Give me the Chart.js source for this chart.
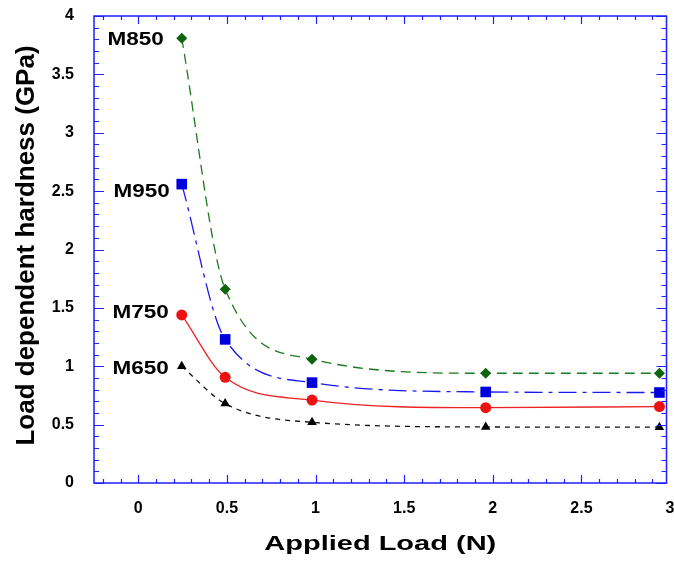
<!DOCTYPE html>
<html>
<head>
<meta charset="utf-8">
<title>Load dependent hardness</title>
<script src="https://cdn.jsdelivr.net/npm/chart.js@4.4.0/dist/chart.umd.min.js"></script>
<style>
    html, body { margin: 0; padding: 0; background: #ffffff; }
    #wrap { width: 674px; height: 563px; }
</style>
</head>
<body>
<div id="wrap"><canvas id="myChart" width="674" height="563"></canvas></div>
<script>
// applied loads (N) - same for every sample
const loads = [0.245, 0.49, 0.98, 1.96, 2.94];

// hardness values (GPa)
const m850 = [3.81, 1.66, 1.06, 0.94, 0.94];
const m950 = [2.56, 1.23, 0.86, 0.78, 0.775];
const m750 = [1.44, 0.905, 0.71, 0.645, 0.655];
const m650 = [1.00, 0.68, 0.52, 0.48, 0.478];

const seriesNames = ['M850', 'M950', 'M750', 'M650'];

// tick labels on the axes
const xTicks = [0, 0.5, 1, 1.5, 2, 2.5, 3];
const yTicks = [0, 0.5, 1, 1.5, 2, 2.5, 3, 3.5, 4];

const xTitle = 'Applied Load (N)';
const yTitle = 'Load dependent hardness (GPa)';

const frameBlue = '#1f1fff';
const tickFont = "bold 16px 'Liberation Sans', Arial";

function toPoints(ys) {
    return loads.map((x, i) => ({ x: x, y: ys[i] }));
}

// blue box with inward ticks, tick labels, axis titles and the sample names
const framePlugin = {
    id: 'frame',
    afterDraw(chart) {
        const ctx = chart.ctx;
        const { left, right, top, bottom } = chart.chartArea;
        const xs = chart.scales.x;
        const ys = chart.scales.y;
        ctx.save();
        ctx.strokeStyle = frameBlue;
        ctx.lineWidth = 1.5;
        ctx.strokeRect(left, top, right - left, bottom - top);

        ctx.lineWidth = 1.2;
        ctx.beginPath();
        for (let i = -3; i <= 30; i++) {
            const v = i / 10;
            if (v < xs.min || v > xs.max) continue;
            const px = Math.round(xs.getPixelForValue(v)) + 0.5;
            const len = (i % 5 === 0) ? 8 : 4;
            ctx.moveTo(px, bottom); ctx.lineTo(px, bottom - len);
            ctx.moveTo(px, top); ctx.lineTo(px, top + len);
        }
        for (let i = 0; i <= 40; i++) {
            const v = i / 10;
            const py = Math.round(ys.getPixelForValue(v)) + 0.5;
            const len = (i % 5 === 0) ? 10 : 5;
            ctx.moveTo(left, py); ctx.lineTo(left + len, py);
            ctx.moveTo(right, py); ctx.lineTo(right - len, py);
        }
        ctx.stroke();

        ctx.fillStyle = '#000000';

        // tick labels
        ctx.font = tickFont;
        ctx.textAlign = 'center';
        ctx.textBaseline = 'middle';
        xTicks.forEach(v => ctx.fillText(String(v), xs.getPixelForValue(v), bottom + 26));
        ctx.textAlign = 'right';
        yTicks.forEach(v => ctx.fillText(String(v), left - 20, ys.getPixelForValue(v)));

        // x title (the original lettering is wide, so stretch it)
        ctx.save();
        ctx.translate((left + right) / 2, 550);
        ctx.scale(1.45, 1);
        ctx.font = "bold 20px 'Liberation Sans', Arial";
        ctx.textAlign = 'center';
        ctx.textBaseline = 'alphabetic';
        ctx.fillText(xTitle, 0, 0);
        ctx.restore();

        // y title
        ctx.save();
        ctx.translate(34, (top + bottom) / 2 - 4);
        ctx.rotate(-Math.PI / 2);
        ctx.font = "bold 26px 'Liberation Sans', Arial";
        ctx.textAlign = 'center';
        ctx.textBaseline = 'alphabetic';
        ctx.fillText(yTitle, 0, 0);
        ctx.restore();

        // series names, placed left of the first point
        const nudge = [[-18, 2], [-12, 8], [-13, -2], [-13, 3]];
        ctx.font = "bold 18px 'Liberation Sans', Arial";
        ctx.textAlign = 'right';
        ctx.textBaseline = 'middle';
        chart.data.datasets.forEach((ds, i) => {
            const p = ds.data[0];
            const px = xs.getPixelForValue(p.x) + nudge[i][0];
            const py = ys.getPixelForValue(p.y) + nudge[i][1];
            ctx.save();
            ctx.translate(px, py);
            ctx.scale(1.25, 1);
            ctx.fillText(seriesNames[i], 0, 0);
            ctx.restore();
        });
        ctx.restore();
    }
};

function createChart() {
    const ctx = document.getElementById('myChart');
    new Chart(ctx, {
        type: 'line',
        data: {
            datasets: [
                {
                    label: 'M850',
                    data: toPoints(m850),
                    borderColor: '#1b7a1b',
                    backgroundColor: '#0d640d',
                    borderWidth: 1.3,
                    borderDash: [10, 6],
                    pointStyle: 'rectRot',
                    pointRadius: 5.5,
                    pointBorderWidth: 0,
                    cubicInterpolationMode: 'monotone'
                },
                {
                    label: 'M950',
                    data: toPoints(m950),
                    borderColor: '#1a1aee',
                    backgroundColor: '#0000dd',
                    borderWidth: 1.3,
                    borderDash: [18, 6, 4, 6],
                    pointStyle: 'rect',
                    pointRadius: 7.5,
                    pointBorderWidth: 0,
                    cubicInterpolationMode: 'monotone'
                },
                {
                    label: 'M750',
                    data: toPoints(m750),
                    borderColor: '#ee2222',
                    backgroundColor: '#ee1111',
                    borderWidth: 1.3,
                    pointStyle: 'circle',
                    pointRadius: 5.5,
                    pointBorderWidth: 0,
                    cubicInterpolationMode: 'monotone'
                },
                {
                    label: 'M650',
                    data: toPoints(m650),
                    borderColor: '#111111',
                    backgroundColor: '#000000',
                    borderWidth: 1.3,
                    borderDash: [5, 5],
                    pointStyle: 'triangle',
                    pointRadius: 5.5,
                    pointBorderWidth: 0,
                    cubicInterpolationMode: 'monotone'
                }
            ]
        },
        options: {
            responsive: false,
            animation: false,
            clip: false,
            layout: { padding: { top: 16, right: 6, left: 0, bottom: 0 } },
            scales: {
                x: {
                    type: 'linear',
                    min: -0.25,
                    max: 2.98,
                    afterFit: scale => { scale.height = 80; },
                    grid: { display: false, drawTicks: false },
                    border: { display: false },
                    ticks: { display: false }
                },
                y: {
                    min: 0,
                    max: 4,
                    afterFit: scale => { scale.width = 94; },
                    grid: { display: false, drawTicks: false },
                    border: { display: false },
                    ticks: { display: false }
                }
            },
            plugins: {
                legend: { display: false },
                tooltip: { enabled: false }
            }
        },
        plugins: [framePlugin]
    });
}

createChart();
</script>
</body>
</html>
